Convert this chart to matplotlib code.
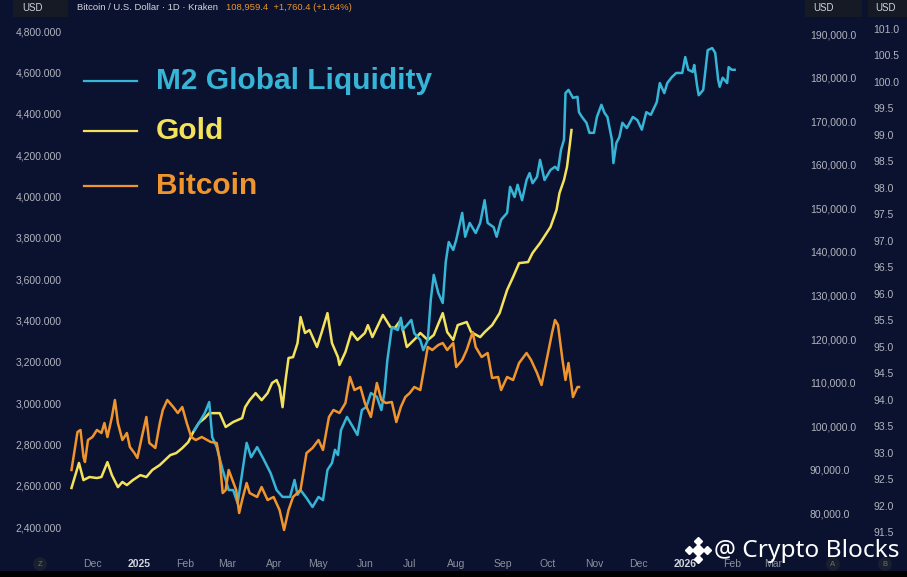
import numpy as np
import pandas as pd
import matplotlib
matplotlib.use("Agg")
import matplotlib.pyplot as plt
from matplotlib.lines import Line2D
from matplotlib.patches import Rectangle

# values (daily candles thinned to the visible turns)
gold_dates = ["2024-11-17", "2024-11-22", "2024-11-25", "2024-11-29", "2024-12-04", "2024-12-07",
              "2024-12-11", "2024-12-14", "2024-12-18", "2024-12-21", "2024-12-24", "2024-12-28",
              "2025-01-02", "2025-01-06", "2025-01-10", "2025-01-15", "2025-01-22", "2025-01-26",
              "2025-01-30", "2025-02-03", "2025-02-06", "2025-02-10", "2025-02-14", "2025-02-17",
              "2025-02-24", "2025-02-28", "2025-03-05", "2025-03-11", "2025-03-13", "2025-03-16",
              "2025-03-20", "2025-03-24", "2025-03-28", "2025-03-31", "2025-04-03", "2025-04-05",
              "2025-04-07", "2025-04-09", "2025-04-11", "2025-04-14", "2025-04-17", "2025-04-19",
              "2025-04-22", "2025-04-25", "2025-04-30", "2025-05-03", "2025-05-07", "2025-05-10",
              "2025-05-14", "2025-05-15", "2025-05-19", "2025-05-23", "2025-05-27", "2025-06-01",
              "2025-06-03", "2025-06-06", "2025-06-13", "2025-06-18", "2025-06-21", "2025-06-25",
              "2025-06-29", "2025-07-05", "2025-07-08", "2025-07-13", "2025-07-17", "2025-07-23",
              "2025-07-26", "2025-07-30", "2025-08-02", "2025-08-08", "2025-08-11", "2025-08-17",
              "2025-08-20", "2025-08-25", "2025-08-30", "2025-09-04", "2025-09-08", "2025-09-12",
              "2025-09-18", "2025-09-21", "2025-09-26", "2025-10-03", "2025-10-07", "2025-10-09",
              "2025-10-12", "2025-10-14", "2025-10-16", "2025-10-17"]
gold_usd = [2589, 2710, 2627, 2642, 2637, 2642, 2714, 2651, 2593, 2618, 2603, 2627,
            2651, 2642, 2676, 2700, 2748, 2758, 2782, 2811, 2855, 2903, 2927, 2951,
            2951, 2884, 2908, 2927, 2980, 3014, 3048, 3014, 3048, 3097, 3111, 3077,
            2980, 3111, 3218, 3222, 3290, 3416, 3339, 3353, 3271, 3339, 3435, 3290,
            3222, 3184, 3247, 3343, 3305, 3339, 3377, 3319, 3426, 3368, 3363, 3402,
            3271, 3314, 3339, 3305, 3329, 3435, 3343, 3305, 3377, 3392, 3343, 3319,
            3343, 3377, 3435, 3547, 3610, 3677, 3682, 3726, 3774, 3852, 3934, 4016,
            4079, 4142, 4258, 4321]

btc_dates = ["2024-11-17", "2024-11-21", "2024-11-23", "2024-11-25", "2024-11-26", "2024-11-28",
             "2024-12-01", "2024-12-04", "2024-12-07", "2024-12-09", "2024-12-11", "2024-12-14",
             "2024-12-16", "2024-12-18", "2024-12-21", "2024-12-24", "2024-12-26", "2024-12-29",
             "2024-12-31", "2025-01-03", "2025-01-06", "2025-01-08", "2025-01-12", "2025-01-15",
             "2025-01-17", "2025-01-20", "2025-01-24", "2025-01-27", "2025-01-30", "2025-02-02",
             "2025-02-05", "2025-02-08", "2025-02-12", "2025-02-18", "2025-02-22", "2025-02-24",
             "2025-02-26", "2025-02-28", "2025-03-02", "2025-03-05", "2025-03-07", "2025-03-09",
             "2025-03-11", "2025-03-14", "2025-03-16", "2025-03-21", "2025-03-24", "2025-03-28",
             "2025-04-01", "2025-04-05", "2025-04-08", "2025-04-11", "2025-04-14", "2025-04-19",
             "2025-04-23", "2025-04-27", "2025-05-01", "2025-05-04", "2025-05-08", "2025-05-11",
             "2025-05-15", "2025-05-19", "2025-05-22", "2025-05-25", "2025-05-29", "2025-06-01",
             "2025-06-05", "2025-06-09", "2025-06-12", "2025-06-15", "2025-06-19", "2025-06-22",
             "2025-06-25", "2025-06-28", "2025-07-01", "2025-07-04", "2025-07-08", "2025-07-10",
             "2025-07-13", "2025-07-16", "2025-07-20", "2025-07-23", "2025-07-26", "2025-07-30",
             "2025-08-01", "2025-08-05", "2025-08-08", "2025-08-12", "2025-08-14", "2025-08-18",
             "2025-08-22", "2025-08-25", "2025-08-29", "2025-08-31", "2025-09-04", "2025-09-08",
             "2025-09-12", "2025-09-17", "2025-09-20", "2025-09-24", "2025-09-27", "2025-09-30",
             "2025-10-04", "2025-10-06", "2025-10-08", "2025-10-11", "2025-10-13", "2025-10-15",
             "2025-10-18", "2025-10-21", "2025-10-22"]
btc_usd = [89980, 98700, 99160, 92960, 91820, 96860, 97550, 99160, 98470, 100760, 97550, 102140,
           106040, 100760, 96860, 98470, 95260, 93880, 92740, 97550, 102140, 96180, 95030, 100760,
           103750, 106040, 104430, 103060, 104430, 100760, 97550, 96860, 97550, 96410, 96180, 92280,
           84700, 85390, 89980, 87230, 85390, 80120, 83100, 87000, 84700, 83790, 86080, 83100,
           83790, 80800, 76220, 80800, 83790, 85390, 93880, 95030, 96860, 94570, 102140, 103750,
           103060, 105350, 111320, 108330, 109020, 105350, 102140, 109940, 106040, 105350, 105580, 100990,
           104430, 106720, 107650, 109020, 108330, 112230, 118200, 117510, 118650, 119110, 117510, 119110,
           113610, 115220, 117510, 121640, 118200, 115900, 116820, 111090, 111320, 108330, 111320, 110630,
           114530, 116820, 115220, 112230, 109480, 114530, 121410, 124390, 123240, 115220, 110630, 114530,
           106720, 109020, 109020]

m2_dates = ["2025-02-07", "2025-02-10", "2025-02-14", "2025-02-17", "2025-02-19", "2025-02-22",
            "2025-02-26", "2025-03-02", "2025-03-05", "2025-03-08", "2025-03-14", "2025-03-17",
            "2025-03-21", "2025-03-25", "2025-03-30", "2025-04-03", "2025-04-07", "2025-04-12",
            "2025-04-15", "2025-04-17", "2025-04-19", "2025-04-23", "2025-04-27", "2025-05-01",
            "2025-05-04", "2025-05-07", "2025-05-10", "2025-05-12", "2025-05-14", "2025-05-16",
            "2025-05-20", "2025-05-24", "2025-05-27", "2025-05-30", "2025-06-02", "2025-06-05",
            "2025-06-09", "2025-06-12", "2025-06-14", "2025-06-16", "2025-06-19", "2025-06-23",
            "2025-06-25", "2025-06-26", "2025-06-29", "2025-07-02", "2025-07-04", "2025-07-08",
            "2025-07-10", "2025-07-13", "2025-07-15", "2025-07-17", "2025-07-20", "2025-07-23",
            "2025-07-25", "2025-07-27", "2025-07-30", "2025-08-01", "2025-08-05", "2025-08-07",
            "2025-08-10", "2025-08-14", "2025-08-17", "2025-08-20", "2025-08-22", "2025-08-26",
            "2025-08-28", "2025-08-31", "2025-09-04", "2025-09-06", "2025-09-09", "2025-09-11",
            "2025-09-14", "2025-09-17", "2025-09-19", "2025-09-21", "2025-09-24", "2025-09-26",
            "2025-09-29", "2025-10-03", "2025-10-06", "2025-10-08", "2025-10-10", "2025-10-12",
            "2025-10-13", "2025-10-15", "2025-10-18", "2025-10-21", "2025-10-22", "2025-10-24",
            "2025-10-27", "2025-10-29", "2025-11-01", "2025-11-03", "2025-11-06", "2025-11-08",
            "2025-11-10", "2025-11-13", "2025-11-14", "2025-11-16", "2025-11-18", "2025-11-20",
            "2025-11-23", "2025-11-27", "2025-11-30", "2025-12-03", "2025-12-06", "2025-12-09",
            "2025-12-13", "2025-12-15", "2025-12-18", "2025-12-20", "2025-12-23", "2025-12-26",
            "2025-12-30", "2026-01-01", "2026-01-03", "2026-01-06", "2026-01-07", "2026-01-09",
            "2026-01-10", "2026-01-13", "2026-01-16", "2026-01-19", "2026-01-21", "2026-01-23",
            "2026-01-24", "2026-01-26", "2026-01-29", "2026-01-30", "2026-02-01", "2026-02-03"]
m2_index = [93.43, 93.56, 93.75, 93.96, 93.30, 93.11, 92.68, 92.30, 92.30, 92.05, 93.19, 92.92,
            93.11, 92.90, 92.62, 92.30, 92.17, 92.17, 92.49, 92.21, 92.30, 92.15, 91.98, 92.17,
            92.11, 92.68, 92.81, 93.06, 92.96, 93.43, 93.68, 93.49, 93.34, 93.81, 93.87, 94.13,
            94.06, 93.81, 94.13, 94.75, 95.37, 95.32, 95.55, 95.32, 95.41, 95.51, 95.26, 95.13,
            94.94, 95.13, 95.89, 96.36, 96.02, 95.83, 96.60, 96.98, 96.83, 97.02, 97.53, 97.08,
            97.34, 97.15, 97.34, 97.77, 97.34, 97.26, 97.08, 97.40, 97.53, 98.02, 97.83, 98.06,
            97.77, 98.15, 98.28, 98.09, 98.21, 98.53, 98.15, 98.34, 98.40, 98.34, 98.72, 98.91,
            99.79, 99.85, 99.70, 99.72, 99.43, 99.34, 99.23, 99.04, 99.04, 99.34, 99.57, 99.42,
            99.34, 98.91, 98.47, 98.85, 98.96, 99.23, 99.13, 99.34, 99.28, 99.10, 99.43, 99.38,
            99.62, 99.98, 99.79, 99.98, 100.09, 100.17, 100.17, 100.47, 100.23, 100.19, 100.32, 99.91,
            99.75, 99.85, 100.60, 100.64, 100.55, 100.04, 99.91, 100.08, 99.98, 100.28, 100.23, 100.23]

gold_ticks = np.arange(2400, 4801, 200)
btc_ticks = np.arange(80000, 190001, 10000)
m2_ticks = np.arange(91.5, 101.01, 0.5)
month_ticks = pd.date_range("2024-12-01", "2026-03-01", freq="MS")

BG = "#0b1230"
BLUE = "#36b5d6"
YELLOW = "#f4e35a"
ORANGE = "#f0952c"
TICK = "#b2b5be"
FONT = "Liberation Sans"

W, H = 907, 577
fig = plt.figure(figsize=(W / 100, H / 100), dpi=100)
fig.patch.set_facecolor(BG)


def fx(px):
    return px / W


def fy(py):
    return 1 - py / H


ax = fig.add_axes([fx(70), fy(545), (805 - 70) / W, (545 - 18) / H])
ax.set_facecolor(BG)
ax_m2 = ax.twinx()
ax_btc = ax.twinx()

ax.plot(pd.to_datetime(gold_dates), gold_usd, color=YELLOW, lw=1.8)
ax_m2.plot(pd.to_datetime(m2_dates), m2_index, color=BLUE, lw=1.8)
ax_btc.plot(pd.to_datetime(btc_dates), btc_usd, color=ORANGE, lw=1.8)

ax.set_xlim(pd.Timestamp("2024-11-16"), pd.Timestamp("2026-03-22"))
ax.set_ylim(2313, 4863)
ax_btc.set_ylim(72777, 193671)
ax_m2.set_ylim(91.263, 101.207)

ax.set_yticks(gold_ticks)
ax.set_yticklabels([f"{v:,.3f}" for v in gold_ticks])
ax_btc.set_yticks(btc_ticks)
ax_btc.set_yticklabels([f"{v:,.1f}" for v in btc_ticks])
ax_m2.set_yticks(m2_ticks)
ax_m2.set_yticklabels([f"{v:.1f}" for v in m2_ticks])

ax.set_xticks(month_ticks)
ax.set_xticklabels([str(d.year) if d.month == 1 else d.strftime("%b") for d in month_ticks])
for d, lab in zip(month_ticks, ax.get_xticklabels()):
    lab.set_fontfamily(FONT)
    lab.set_fontsize(7.5)
    if d.month == 1:
        lab.set_fontweight("bold")
        lab.set_color("#d1d4dc")
    else:
        lab.set_color("#8c909c")

ax.tick_params(axis="x", length=0, pad=10)
ax.tick_params(axis="y", length=0, pad=6, labelsize=7.5, labelcolor=TICK)
ax_btc.tick_params(axis="y", length=0, pad=3.6, labelsize=7.5, labelcolor=TICK)
ax_m2.tick_params(axis="y", length=0, pad=49, labelsize=7.5, labelcolor=TICK)
for a in (ax, ax_btc, ax_m2):
    for lab in a.get_yticklabels():
        lab.set_fontfamily(FONT)
    for s in a.spines.values():
        s.set_visible(False)

# legend drawn by hand like the annotation in the source
legend_items = [("M2 Global Liquidity", BLUE, 81), ("Gold", YELLOW, 131), ("Bitcoin", ORANGE, 186)]
for label, col, yy in legend_items:
    fig.add_artist(Line2D([fx(84), fx(137)], [fy(yy), fy(yy)], color=col, lw=1.6,
                          transform=fig.transFigure))
    fig.text(fx(156), fy(yy), label, color=col, fontsize=21.5, fontweight="bold",
             family=FONT, va="center", ha="left")

# header strip
for x0, x1, tx in [(13, 68, 22), (805, 862, 813), (868, 907, 875)]:
    fig.add_artist(Rectangle((fx(x0), fy(17)), (x1 - x0) / W, 17 / H, transform=fig.transFigure,
                             facecolor="#161a25", edgecolor="none"))
    fig.text(fx(tx), fy(8), "USD", color="#d1d4dc", fontsize=7, family=FONT, va="center")
fig.text(fx(77), fy(8), "Bitcoin / U.S. Dollar · 1D · Kraken", color="#d1d4dc",
         fontsize=6.8, family=FONT, va="center")
fig.text(fx(226), fy(8), "108,959.4  +1,760.4 (+1.64%)", color="#e8962e",
         fontsize=6.8, family=FONT, va="center")

# little scale buttons on the time axis
for xx, ch in [(40, "Z"), (833, "A"), (885, "B")]:
    fig.text(fx(xx), fy(564), ch, color="#6b6f7a", fontsize=5.5, family=FONT,
             ha="center", va="center",
             bbox=dict(boxstyle="circle,pad=0.45", fc="#1a1f2e", ec="none"))

fig.add_artist(Rectangle((0, 0), 1, 6 / H, transform=fig.transFigure,
                         facecolor="black", edgecolor="none"))

# watermark
fig.text(fx(714), fy(551), "@ Crypto Blocks", color="white", fontsize=17.6,
         family="Noto Sans", va="center", ha="left")
cx, cy = 698, 550
for dx, dy, ms in [(0, 0, 6), (-9, 0, 4), (9, 0, 4), (0, -9, 4), (0, 9, 4)]:
    fig.add_artist(Line2D([fx(cx + dx)], [fy(cy + dy)], marker="D", ms=ms, color="white",
                          ls="", transform=fig.transFigure))

fig.savefig("out.png", dpi=100, facecolor=fig.get_facecolor())
